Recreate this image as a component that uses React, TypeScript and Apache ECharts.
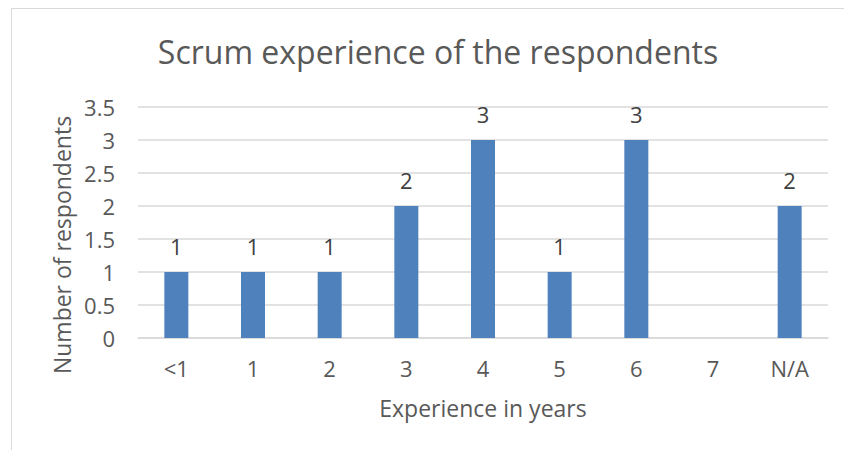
import React, { useEffect, useRef } from "react";
import * as echarts from "echarts";

const categories = ["<1", "1", "2", "3", "4", "5", "6", "7", "N/A"];
const respondents: (number | null)[] = [1, 1, 1, 2, 3, 1, 3, null, 2];
const titleText = "Scrum experience of the respondents";
const xAxisName = "Experience in years";
const yAxisName = "Number of respondents";

const FONT = "'Open Sans', sans-serif";
const GRAY = "#595959";

export default function App() {
  const ref = useRef<HTMLDivElement>(null);
  useEffect(() => {
    if (!ref.current) return;
    const chart = echarts.init(ref.current, null, { renderer: "svg" });
    chart.setOption({
      animation: false,
      backgroundColor: "#ffffff",
      textStyle: { fontFamily: FONT },
      title: {
        text: titleText,
        left: 433,
        textAlign: "center",
        top: 30,
        textStyle: { fontFamily: FONT, fontSize: 32, fontWeight: "normal", color: GRAY },
      },
      grid: { left: 138, right: 16, top: 107, bottom: 112, containLabel: false },
      xAxis: {
        type: "category",
        data: categories,
        name: xAxisName,
        nameLocation: "middle",
        nameGap: 58,
        nameTextStyle: { fontFamily: FONT, fontSize: 23, color: GRAY },
        axisLine: { show: true, lineStyle: { color: "#d9d9d9", width: 1.5 } },
        axisTick: { show: false },
        axisLabel: { margin: 19, fontSize: 22, color: GRAY, fontFamily: FONT },
      },
      yAxis: {
        type: "value",
        min: 0,
        max: 3.5,
        interval: 0.5,
        axisLine: { show: false },
        axisTick: { show: false },
        axisLabel: { margin: 23, fontSize: 22, color: GRAY, fontFamily: FONT },
        splitLine: { lineStyle: { color: "#d9d9d9", width: 1.5 } },
      },
      graphic: [
        {
          type: "rect",
          shape: { x: 11.5, y: 8.5, width: 860, height: 460 },
          style: { fill: "none", stroke: "#d9d9d9", lineWidth: 1 },
          silent: true,
          z: -1,
        },
        {
          type: "text",
          x: 62,
          y: 245,
          rotation: Math.PI / 2,
          style: {
            text: yAxisName,
            fontFamily: FONT,
            fontSize: 23,
            fill: GRAY,
            align: "center",
            verticalAlign: "middle",
          },
        },
      ],
      series: [
        {
          type: "bar",
          data: respondents,
          barWidth: 24,
          itemStyle: { color: "#4f81bd" },
          label: {
            show: true,
            position: "top",
            distance: 15,
            fontSize: 22,
            color: "#404040",
            fontFamily: FONT,
          },
        },
      ],
    });
    return () => chart.dispose();
  }, []);
  return <div ref={ref} style={{ width: 844, height: 450, position: "absolute", left: 0, top: 0 }} />;
}
